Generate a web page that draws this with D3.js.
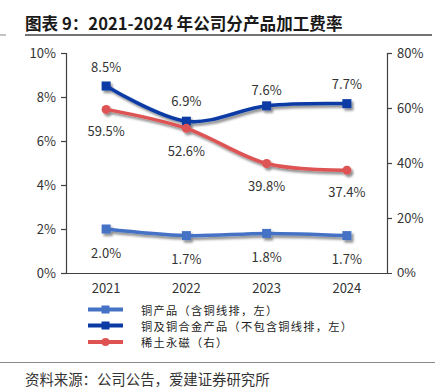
<!DOCTYPE html>
<html><head><meta charset="utf-8">
<script src="https://cdn.jsdelivr.net/npm/d3@7"></script>
<style>
body{margin:0;background:#fff;}
svg{display:block;font-family:"Noto Sans CJK SC","Noto Sans",sans-serif;}
</style></head>
<body>
<svg id="chart" width="435" height="389"></svg>
<script>
const years = ["2021","2022","2023","2024"];
const copperProducts = [2.0, 1.7, 1.8, 1.7];          // 左轴 %
const copperAlloy = [8.5, 6.9, 7.6, 7.7];             // 左轴 %
const rareEarth = [59.5, 52.6, 39.8, 37.4];           // 右轴 %
const leftTicks = [0, 2, 4, 6, 8, 10];
const rightTicks = [0, 20, 40, 60, 80];
const legendNames = ["铜产品（含铜线排，左）","铜及铜合金产品（不包含铜线排，左）","稀土永磁（右）"];
const titleText = "图表 9：2021-2024 年公司分产品加工费率";
const sourceText = "资料来源：公司公告，爱建证券研究所";

const colors = {light:"#4472C4", dark:"#0A3BA5", red:"#DE5252"};
const svg = d3.select("#chart");

const defs = svg.append("defs");
const f = defs.append("filter").attr("id","sh").attr("x","-20%").attr("y","-20%").attr("width","140%").attr("height","160%");
f.append("feDropShadow").attr("dx",2).attr("dy",2.5).attr("stdDeviation",1.3).attr("flood-color","#000").attr("flood-opacity",0.45);

// title
svg.append("text").attr("x",25).attr("y",23).attr("dominant-baseline","central")
  .attr("font-size",16.6).attr("font-weight","bold").attr("fill","#1a1a1a").attr("xml:space","preserve").text(titleText);
svg.append("line").attr("x1",25).attr("x2",432).attr("y1",35).attr("y2",35).attr("stroke","#444").attr("stroke-width",1.5);
svg.append("line").attr("x1",0).attr("x2",6).attr("y1",35).attr("y2",35).attr("stroke","#888").attr("stroke-width",1);

const L = 66, R = 387, T = 53, B = 273;
const x = d3.scaleBand().domain(years).range([L,R]);
const yL = d3.scaleLinear().domain([0,10]).range([B,T]);
const yR = d3.scaleLinear().domain([0,80]).range([B,T]);

const axColor = "#404040";
const gL = svg.append("g").attr("transform",`translate(${L},0)`)
  .call(d3.axisLeft(yL).tickValues(leftTicks).tickFormat(d=>d+"%").tickSizeOuter(0).tickSize(5).tickPadding(5));
const gR = svg.append("g").attr("transform",`translate(${R},0)`)
  .call(d3.axisRight(yR).tickValues(rightTicks).tickFormat(d=>d+"%").tickSizeOuter(0).tickSize(5).tickPadding(5));
const gX = svg.append("g").attr("transform",`translate(0,${B})`)
  .call(d3.axisBottom(x).tickSize(0).tickPadding(11).tickSizeOuter(0));
[gL,gR,gX].forEach(g=>{
  g.selectAll("path").attr("stroke",axColor).attr("stroke-width",1.2);
  g.selectAll("line").attr("stroke",axColor).attr("stroke-width",1.2);
  g.selectAll("text").attr("font-size",13).attr("fill","#333").attr("font-family",'"Noto Sans CJK SC",sans-serif');
});
gR.selectAll(".tick").filter(d=>d===0).remove();
gR.append("text").attr("x",10).attr("y",B).attr("dy","0.32em").attr("font-size",13).attr("fill","#333").text("0%");

const cx = d => x(d) + x.bandwidth()/2;
const curve = d3.curveCardinal.tension(0);

const series = [
  {vals:copperProducts, y:yL, color:colors.light, shape:"sq", dy:[23,23,23,23]},
  {vals:copperAlloy, y:yL, color:colors.dark, shape:"sq", dy:[-20,-21,-16,-20]},
  {vals:rareEarth, y:yR, color:colors.red, shape:"ci", dy:[21.5,22,21.5,21.5]}
];

const plot = svg.append("g");
series.forEach(s=>{
  const g = plot.append("g").attr("filter","url(#sh)");
  const line = d3.line().x((d,i)=>cx(years[i])).y(d=>s.y(d)).curve(curve);
  g.append("path").attr("d",line(s.vals)).attr("fill","none").attr("stroke",s.color).attr("stroke-width",3.5).attr("stroke-linecap","round");
  s.vals.forEach((v,i)=>{
    if(s.shape==="sq"){
      g.append("rect").attr("x",cx(years[i])-4.5).attr("y",s.y(v)-4.5).attr("width",9).attr("height",9).attr("fill",s.color);
    } else {
      g.append("circle").attr("cx",cx(years[i])).attr("cy",s.y(v)).attr("r",4.5).attr("fill",s.color);
    }
  });
});
series.forEach(s=>{
  s.vals.forEach((v,i)=>{
    svg.append("text").attr("x",cx(years[i])).attr("y",s.y(v)+s.dy[i]).attr("text-anchor","middle")
      .attr("dominant-baseline","central").attr("font-size",13).attr("fill","#333").text(v.toFixed(1)+"%");
  });
});

// legend
const legY = [309.5, 325.5, 342];
series.forEach((s,i)=>{
  const g = svg.append("g");
  g.append("line").attr("x1",88).attr("x2",123).attr("y1",legY[i]).attr("y2",legY[i]).attr("stroke",s.color).attr("stroke-width",4);
  if(s.shape==="sq") g.append("rect").attr("x",105.5-4).attr("y",legY[i]-4).attr("width",8).attr("height",8).attr("fill",s.color);
  else g.append("circle").attr("cx",105.5).attr("cy",legY[i]).attr("r",4).attr("fill",s.color);
  g.append("text").attr("x",141).attr("y",legY[i]).attr("dominant-baseline","central").attr("font-size",11.2)
    .attr("letter-spacing",1.3).attr("fill","#222").text(legendNames[i]);
});

svg.append("line").attr("x1",0).attr("x2",435).attr("y1",362.5).attr("y2",362.5).attr("stroke","#8a8a8a").attr("stroke-width",1);
svg.append("text").attr("x",25).attr("y",378).attr("dominant-baseline","central").attr("font-size",14.4).attr("fill","#333").text(sourceText);
</script>
</body></html>
